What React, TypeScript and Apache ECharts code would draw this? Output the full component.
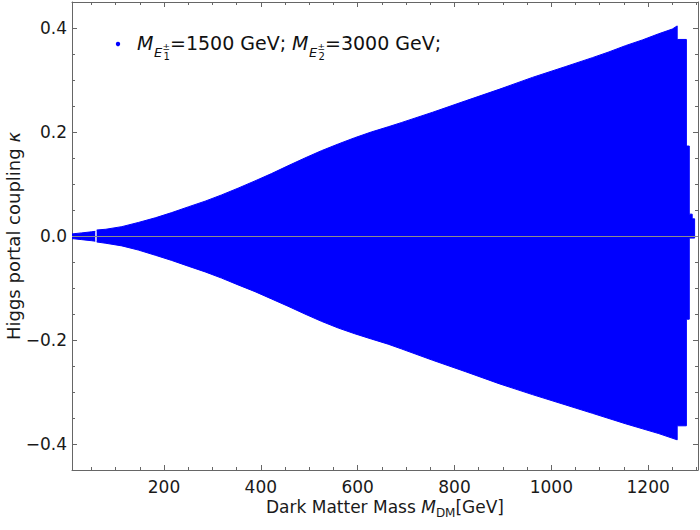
import React, { useEffect, useRef } from 'react';
import * as echarts from 'echarts';

// Upper edge of the allowed region (Dark matter mass in GeV, kappa); null = resonance gap
const massUpper = [10, 30, 50, 58, 59.5, 61, 80, 113, 147, 182, 216, 250, 285, 319, 353, 388, 422, 456, 491, 525, 560, 594, 628, 663, 690, 755, 823, 892, 961, 1030, 1085, 1119, 1153, 1188, 1222, 1250, 1260, 1260, 1279, 1279, 1285, 1285, 1291, 1291, 1296, 1296];
const kappaUpper = [0.004, 0.006, 0.008, 0.009, null, 0.0115, 0.013, 0.018, 0.026, 0.035, 0.045, 0.056, 0.067, 0.079, 0.092, 0.106, 0.12, 0.135, 0.15, 0.164, 0.177, 0.189, 0.2, 0.21, 0.218, 0.238, 0.26, 0.282, 0.305, 0.326, 0.343, 0.354, 0.366, 0.377, 0.389, 0.398, 0.404, 0.378, 0.378, 0.173, 0.173, 0.042, 0.042, 0.033, 0.033, 0];

// Lower edge of the allowed region
const massLower = [10, 30, 50, 58, 59.5, 61, 80, 113, 147, 182, 216, 250, 285, 319, 353, 388, 422, 456, 491, 525, 560, 594, 628, 663, 690, 755, 823, 892, 961, 1030, 1085, 1153, 1222, 1260, 1260, 1279, 1279, 1285, 1285, 1296, 1296];
const kappaLower = [-0.005, -0.007, -0.009, -0.01, null, -0.0115, -0.014, -0.019, -0.027, -0.037, -0.047, -0.058, -0.069, -0.081, -0.094, -0.107, -0.121, -0.135, -0.15, -0.164, -0.177, -0.188, -0.198, -0.208, -0.217, -0.239, -0.261, -0.284, -0.305, -0.325, -0.341, -0.361, -0.38, -0.392, -0.365, -0.365, -0.16, -0.16, -0.004, -0.004, 0];

const xMin = 10;
const xMax = 1303;
const yMin = -0.45;
const yMax = 0.45;
const xMajorTicks = [200, 400, 600, 800, 1000, 1200];
const xTickLabels = ['200', '400', '600', '800', '1000', '1200'];
const xMinorTicks = [50, 100, 150, 250, 300, 350, 450, 500, 550, 650, 700, 750, 850, 900, 950, 1050, 1100, 1150, 1250, 1300];
const yMajorTicks = [-0.4, -0.2, 0, 0.2, 0.4];
const yTickLabels = ['\u22120.4', '\u22120.2', '0.0', '0.2', '0.4'];
const yMinorTicks = [-0.35, -0.3, -0.25, -0.15, -0.1, -0.05, 0.05, 0.1, 0.15, 0.25, 0.3, 0.35];

const FONT = '"DejaVu Sans", sans-serif';
const FRAME = '#666666';
const BLUE = '#0000ff';
const TEXT = '#1a1a1a';

function labelFor(values: number[], labels: string[], v: number) {
  let best = 0;
  for (let i = 0; i < values.length; i++) {
    if (Math.abs(values[i] - v) < Math.abs(values[best] - v)) best = i;
  }
  return labels[best];
}

function xAxisDef(position: string, ticks: number[], len: number, main: boolean, lineShow: boolean) {
  const ax: any = {
    type: 'value',
    position,
    min: xMin,
    max: xMax,
    axisLine: { show: lineShow, onZero: false, lineStyle: { color: FRAME, width: 1 } },
    axisTick: { show: true, inside: true, length: len, customValues: ticks, lineStyle: { color: FRAME, width: 1 } },
    axisLabel: { show: false },
    splitLine: { show: false },
  };
  if (main) {
    ax.axisLabel = {
      show: true,
      customValues: xMajorTicks,
      margin: 8,
      fontFamily: FONT,
      fontSize: 17,
      color: TEXT,
      formatter: (v: number) => labelFor(xMajorTicks, xTickLabels, v),
    };
    ax.name = 'Dark Matter Mass {it|M}{sub|DM}[GeV]';
    ax.nameLocation = 'middle';
    ax.nameGap = 25;
    ax.nameMoveOverlap = false;
    ax.nameTextStyle = {
      fontFamily: FONT,
      fontSize: 17,
      color: TEXT,
      lineHeight: 24,
      rich: {
        it: { fontFamily: FONT, fontSize: 17, fontStyle: 'italic', color: TEXT, lineHeight: 24 },
        sub: { fontFamily: FONT, fontSize: 12, color: TEXT, lineHeight: 12, verticalAlign: 'bottom' },
      },
    };
  }
  return ax;
}

function yAxisDef(position: string, ticks: number[], len: number, main: boolean, lineShow: boolean) {
  const ax: any = {
    type: 'value',
    position,
    min: yMin,
    max: yMax,
    axisLine: { show: lineShow, onZero: false, lineStyle: { color: FRAME, width: 1 } },
    axisTick: { show: true, inside: true, length: len, customValues: ticks, lineStyle: { color: FRAME, width: 1 } },
    axisLabel: { show: false },
    splitLine: { show: false },
  };
  if (main) {
    ax.axisLabel = {
      show: true,
      customValues: yMajorTicks,
      margin: 5,
      fontFamily: FONT,
      fontSize: 17,
      color: TEXT,
      formatter: (v: number) => labelFor(yMajorTicks, yTickLabels, v),
    };
    ax.name = 'Higgs portal coupling {it|\u03ba}';
    ax.nameLocation = 'middle';
    ax.nameGap = 50;
    ax.nameMoveOverlap = false;
    ax.nameTextStyle = {
      fontFamily: FONT,
      fontSize: 18,
      color: TEXT,
      lineHeight: 18,
      rich: {
        it: { fontFamily: FONT, fontSize: 18, fontStyle: 'italic', color: TEXT, lineHeight: 18 },
      },
    };
  }
  return ax;
}

function txt(text: string, x: number, y: number, size: number, italic: boolean) {
  return {
    type: 'text',
    x,
    y,
    silent: true,
    style: {
      text,
      fill: '#111111',
      fontFamily: FONT,
      fontSize: size,
      fontStyle: italic ? 'italic' : 'normal',
      align: 'left',
      verticalAlign: 'middle',
      textAlign: 'left',
      textVerticalAlign: 'middle',
    },
  };
}

export default function App() {
  const ref = useRef<HTMLDivElement>(null);

  useEffect(() => {
    if (!ref.current) return;
    const chart = echarts.init(ref.current, undefined, { renderer: 'svg' });

    const upperData = massUpper.map((m, i) => [m, kappaUpper[i]]);
    const lowerData = massLower.map((m, i) => [m, kappaLower[i]]);

    const option: any = {
      animation: false,
      backgroundColor: '#ffffff',
      grid: { left: 72, right: 2, top: 2, bottom: 60, containLabel: false, outerBoundsMode: 'none' },
      xAxis: [
        xAxisDef('bottom', xMajorTicks, 5, true, true),
        xAxisDef('bottom', xMinorTicks, 3, false, false),
        xAxisDef('top', xMajorTicks, 5, false, true),
        xAxisDef('top', xMinorTicks, 3, false, false),
      ],
      yAxis: [
        yAxisDef('left', yMajorTicks, 5, true, true),
        yAxisDef('left', yMinorTicks, 3, false, false),
        yAxisDef('right', yMajorTicks, 5, false, true),
        yAxisDef('right', yMinorTicks, 3, false, false),
      ],
      series: [
        {
          type: 'line',
          name: 'upper',
          xAxisIndex: 0,
          yAxisIndex: 0,
          data: upperData,
          symbol: 'none',
          showSymbol: false,
          silent: true,
          connectNulls: false,
          lineStyle: { color: BLUE, width: 1 },
          itemStyle: { color: BLUE },
          areaStyle: { color: BLUE, opacity: 1 },
          z: 2,
        },
        {
          type: 'line',
          name: 'lower',
          xAxisIndex: 0,
          yAxisIndex: 0,
          data: lowerData,
          symbol: 'none',
          showSymbol: false,
          silent: true,
          connectNulls: false,
          lineStyle: { color: BLUE, width: 1 },
          itemStyle: { color: BLUE },
          areaStyle: { color: BLUE, opacity: 1 },
          z: 3,
          markLine: {
            silent: true,
            symbol: ['none', 'none'],
            label: { show: false },
            lineStyle: { color: '#8c8c8c', width: 1, type: 'solid' },
            data: [{ yAxis: 0 }],
          },
        },
      ],
      graphic: {
        elements: [
          { type: 'circle', x: 118, y: 44, silent: true, shape: { cx: 0, cy: 0, r: 2.2 }, style: { fill: BLUE } },
          txt('M', 137, 43.4, 19, true),
          txt('E', 154, 52, 13, true),
          txt('\u00b1', 162.5, 46.6, 9, false),
          txt('1', 163.5, 56.8, 10, false),
          txt('=1500 GeV;', 170, 43.4, 19, false),
          txt('M', 292, 43.4, 19, true),
          txt('E', 309, 52, 13, true),
          txt('\u00b1', 317.5, 46.6, 9, false),
          txt('2', 318.5, 56.8, 10, false),
          txt('=3000 GeV;', 325, 43.4, 19, false),
        ],
      },
    };

    chart.setOption(option);
    return () => {
      chart.dispose();
    };
  }, []);

  return (
    <div
      ref={ref}
      style={{ position: 'fixed', left: 0, top: 0, width: 700, height: 530, background: '#ffffff' }}
    />
  );
}
